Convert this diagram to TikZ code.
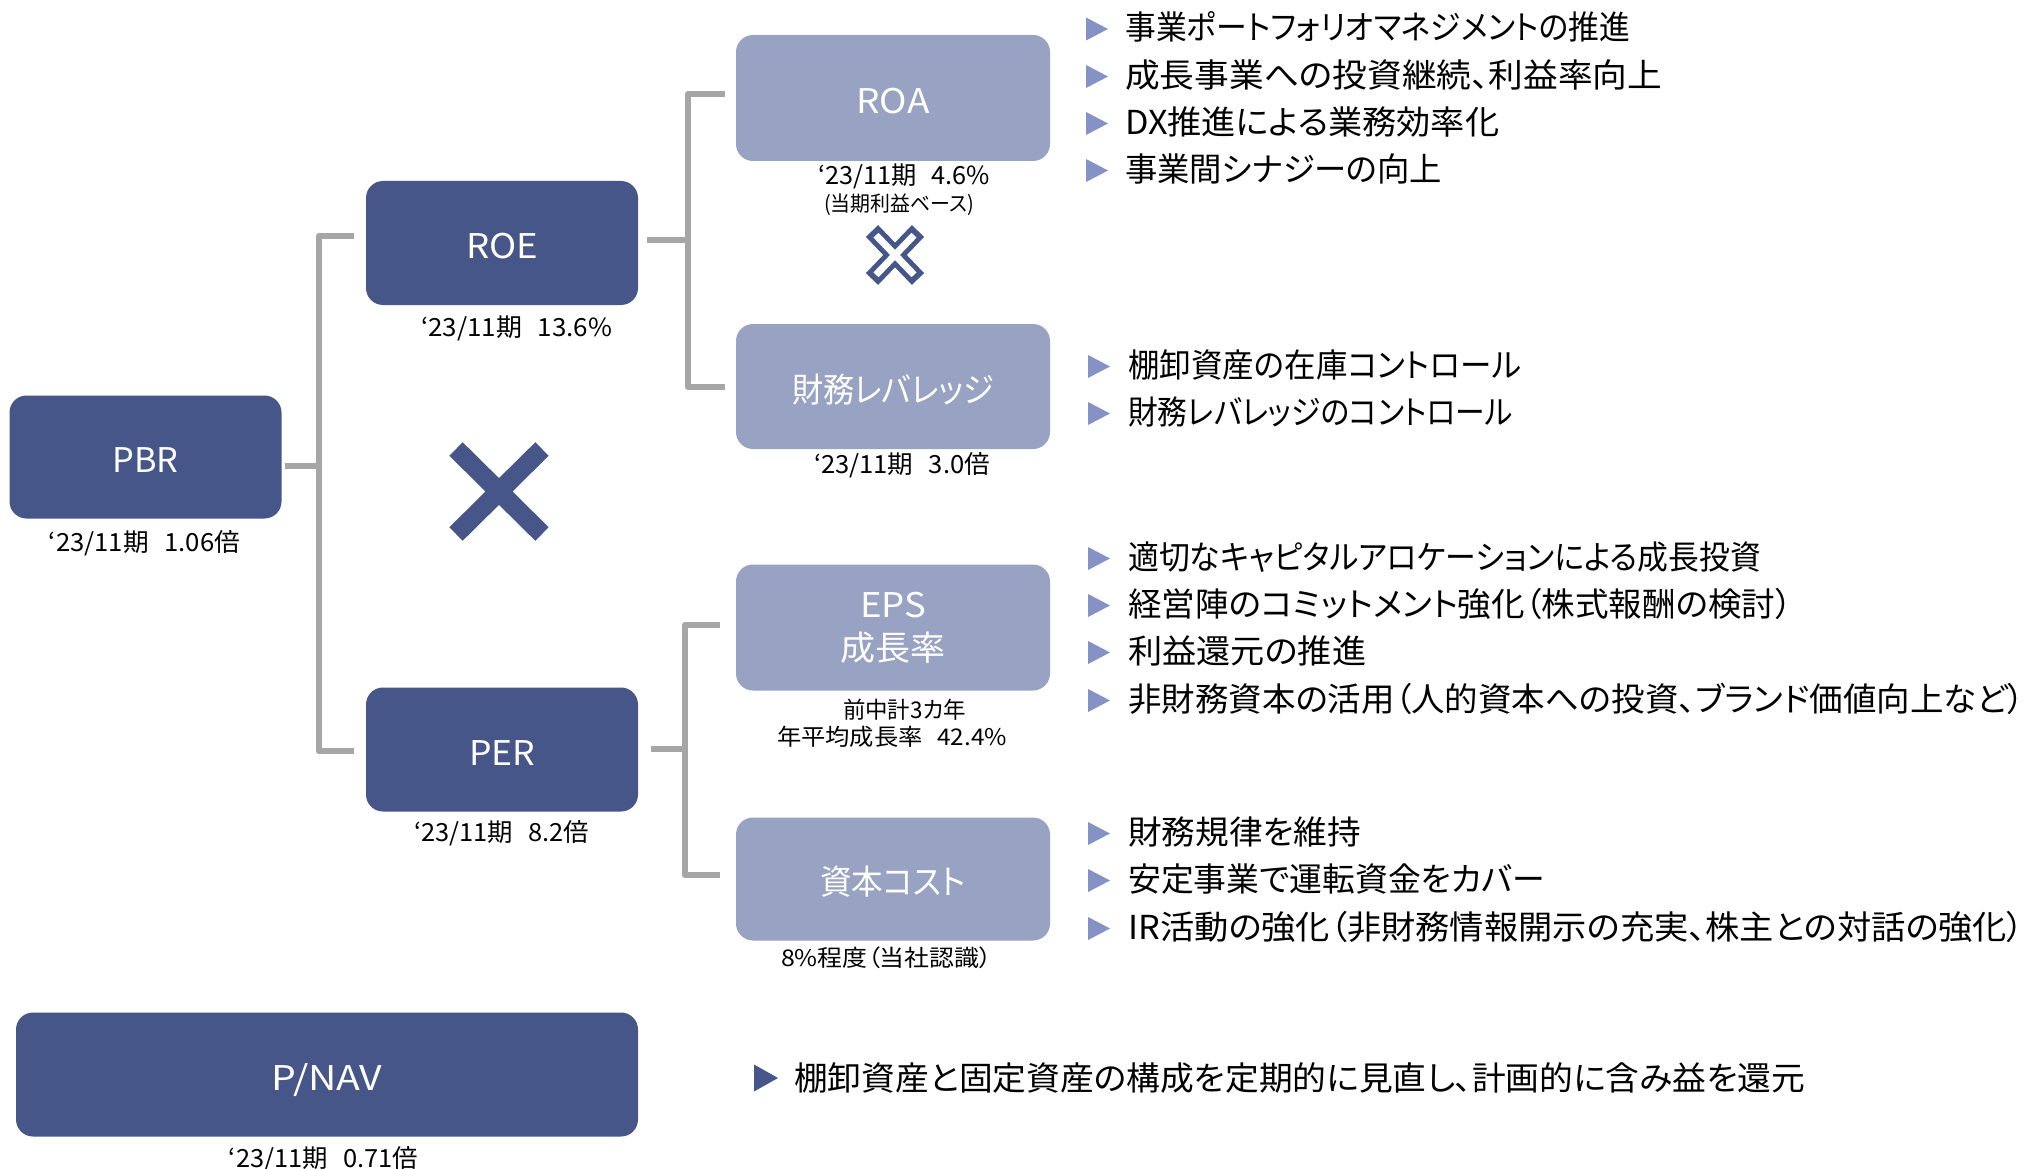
\documentclass[tikz,border=0pt]{standalone}
\usepackage{fontspec}
\setmainfont{Noto Sans CJK JP}[RawFeature={+palt}]
\usepackage{graphicx}
\usetikzlibrary{calc}
\definecolor{navy}{HTML}{465689}
\definecolor{lav}{HTML}{98A2C2}
\definecolor{trib}{HTML}{8592C6}
\definecolor{conngray}{HTML}{A6A6A6}
\newcommand\fitw[2]{\resizebox{#1pt}{\height}{#2}}
\newcommand\tribul[3][trib]{\fill[#1] (#2,#3-11.5) -- (#2+22,#3) -- (#2,#3+11.5) -- cycle;}
\begin{document}
\begin{tikzpicture}[x=1pt,y=-1pt,
  kbox/.style={rounded corners=17pt, inner sep=0pt, text=white, font=\fontsize{34}{42.6}\selectfont, align=center},
  darkbox/.style={kbox, fill=navy, text height=31pt, text depth=0pt},
  lightbox/.style={kbox, fill=lav},
  onel/.style={text height=31pt, text depth=0pt},
  connector/.style={draw=conngray, line width=6.5pt, line join=round},
  lbl/.style={inner sep=0pt, font=\fontsize{25}{30}\selectfont, text height=19pt, text depth=0pt},
  lbls/.style={inner sep=0pt, font=\fontsize{23}{28}\selectfont, text height=17.5pt, text depth=0pt},
  lblx/.style={inner sep=0pt, font=\fontsize{21}{25}\selectfont, text height=16pt, text depth=0pt},
  bul/.style={inner sep=0pt, anchor=west, font=\fontsize{33}{40}\selectfont, text height=25pt, text depth=0pt},
]
\useasboundingbox (0,0) rectangle (2042,1169);
\fill[white] (0,0) rectangle (2042,1169);

% boxes
\node[darkbox, minimum width=272pt, minimum height=123pt] (PBR) at (145.5,457) {\fitw{66}{PBR}};
\node[darkbox, minimum width=272pt, minimum height=124pt] (ROE) at (502,243) {\fitw{72}{ROE}};
\node[darkbox, minimum width=272pt, minimum height=124pt] (PER) at (502,749.5) {\fitw{66}{PER}};
\node[darkbox, minimum width=622pt, minimum height=124pt] (PNAV) at (327,1074.5) {\fitw{111}{P/NAV}};
\node[lightbox, onel, minimum width=314pt, minimum height=126pt] (ROA) at (893,98) {\fitw{73}{ROA}};
\node[lightbox, onel, minimum width=314pt, minimum height=125pt] (LEV) at (893,386.5) {\fitw{202}{財務レバレッジ}};
\node[lightbox, minimum width=314pt, minimum height=126pt] (EPS) at (893,627.5) {\raisebox{-2.5pt}{\fitw{66}{EPS}}\\\raisebox{-2.5pt}{\fitw{105}{成長率}}};
\node[lightbox, onel, minimum width=314pt, minimum height=123pt] (COST) at (893,879) {\fitw{146}{資本コスト}};

% connectors
\coordinate (T1) at (319,466);
\draw[connector] ($(ROE.west)+(-12,-7)$) -| (T1) |- ($(PER.west)+(-12,1.5)$);
\draw[connector] ($(PBR.east)+(3,9)$) -- (T1);
\coordinate (T2) at (688,240);
\draw[connector] ($(ROA.west)+(-11,-4)$) -| (T2) |- ($(LEV.west)+(-11,0.5)$);
\draw[connector] ($(ROE.east)+(9,-3)$) -- (T2);
\coordinate (T3) at (685,749);
\draw[connector] ($(EPS.west)+(-16,-2.5)$) -| (T3) |- ($(COST.west)+(-16,-4)$);
\draw[connector] ($(PER.east)+(13,-0.5)$) -- (T3);

% multiplication signs
\draw[navy, line width=19pt] (456,449) -- (542,534) (542,449) -- (456,534);
\draw[navy, line width=17pt] (872,231) -- (918,279) (918,231) -- (872,279);
\draw[white, line width=7pt] (876,235.2) -- (914,274.8) (914,235.2) -- (876,274.8);

% labels
\node[lbl] (lPBR) at (144.5,542) {\fitw{191}{‘23/11期\hspace{0.6em}1.06倍}};
\node[lbl] (lROE) at (516.5,327) {\fitw{191}{‘23/11期\hspace{0.6em}13.6\%}};
\node[lbl] (lROA) at (904,175) {\fitw{172}{‘23/11期\hspace{0.6em}4.6\%}};
\node[lblx] (lROA2) at (899,204) {\fitw{150}{(当期利益ベース)}};
\node[lbl] (lLEV) at (902,464) {\fitw{176}{‘23/11期\hspace{0.6em}3.0倍}};
\node[lbls] (lEPS1) at (904.5,710) {\fitw{123}{前中計3カ年}};
\node[lbls] (lEPS2) at (892,737) {\fitw{230}{年平均成長率\hspace{0.6em}42.4\%}};
\node[lbls] (lCOST) at (886.5,958) {\fitw{211}{8\%程度（当社認識）}};
\node[lbl] (lPER) at (501.5,832) {\fitw{175}{‘23/11期\hspace{0.6em}8.2倍}};
\node[lbl] (lPNAV) at (323.5,1158) {\fitw{189}{‘23/11期\hspace{0.6em}0.71倍}};

% bullets group 1
\tribul{1086}{29}
\node[bul] (b11) at (1125,27.5) {\fitw{505}{事業ポートフォリオマネジメントの推進}};
\tribul{1086}{76.5}
\node[bul] (b12) at (1125,75) {\fitw{537}{成長事業への投資継続、利益率向上}};
\tribul{1086}{123.5}
\node[bul] (b13) at (1125,122) {\fitw{374}{DX推進による業務効率化}};
\tribul{1086}{170.5}
\node[bul] (b14) at (1125,169) {\fitw{317}{事業間シナジーの向上}};
% group 2
\tribul{1088}{366.5}
\node[bul] (b21) at (1128,365) {\fitw{393}{棚卸資産の在庫コントロール}};
\tribul{1088}{413.5}
\node[bul] (b22) at (1128,412) {\fitw{385}{財務レバレッジのコントロール}};
% group 3
\tribul{1088}{558.5}
\node[bul] (b31) at (1128,557) {\fitw{633}{適切なキャピタルアロケーションによる成長投資}};
\tribul{1088}{605.5}
\node[bul] (b32) at (1128,604) {\fitw{664}{経営陣のコミットメント強化（株式報酬の検討）}};
\tribul{1088}{652.5}
\node[bul] (b33) at (1128,651) {\fitw{238}{利益還元の推進}};
\tribul{1088}{700.5}
\node[bul] (b34) at (1128,699) {\fitw{896}{非財務資本の活用（人的資本への投資、ブランド価値向上など）}};
% group 4
\tribul{1088}{833.5}
\node[bul] (b41) at (1128,832) {\fitw{233}{財務規律を維持}};
\tribul{1088}{880.5}
\node[bul] (b42) at (1128,879) {\fitw{417}{安定事業で運転資金をカバー}};
\tribul{1088}{928.5}
\node[bul] (b43) at (1128,927) {\fitw{896}{IR活動の強化（非財務情報開示の充実、株主との対話の強化）}};
% group 5
\fill[navy] (754,1064.5) -- (778,1078) -- (754,1091.5) -- cycle;
\node[bul] (b51) at (794,1078) {\fitw{1011}{棚卸資産と固定資産の構成を定期的に見直し、計画的に含み益を還元}};
\end{tikzpicture}
\end{document}
